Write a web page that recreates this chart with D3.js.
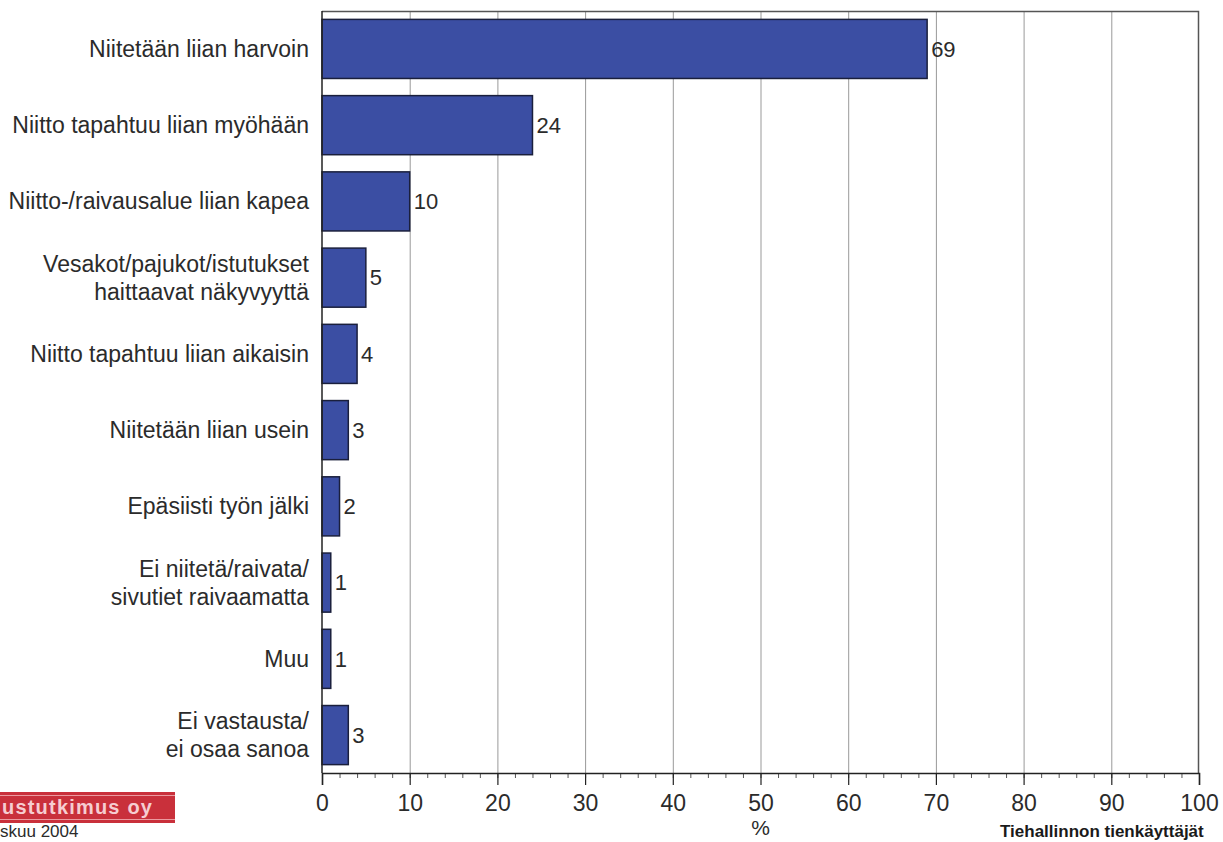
<!DOCTYPE html>
<html>
<head>
<meta charset="utf-8">
<script src="https://cdn.jsdelivr.net/npm/d3@7"></script>
<style>
  html, body { margin: 0; padding: 0; background: #fff; overflow: hidden; }
  svg { display: block; font-family: "Liberation Sans", Arial, sans-serif; }
</style>
</head>
<body>
<script>
const categories = [
  ["Niitetään liian harvoin"],
  ["Niitto tapahtuu liian myöhään"],
  ["Niitto-/raivausalue liian kapea"],
  ["Vesakot/pajukot/istutukset", "haittaavat näkyvyyttä"],
  ["Niitto tapahtuu liian aikaisin"],
  ["Niitetään liian usein"],
  ["Epäsiisti työn jälki"],
  ["Ei niitetä/raivata/", "sivutiet raivaamatta"],
  ["Muu"],
  ["Ei vastausta/", "ei osaa sanoa"]
];
const values = [69, 24, 10, 5, 4, 3, 2, 1, 1, 3];
const xTicks = [0, 10, 20, 30, 40, 50, 60, 70, 80, 90, 100];
const xMinorTicks = d3.range(0, 101, 2);
const axisTitle = "%";
const logoText = "ustutkimus oy";
const dateText = "skuu 2004";
const sourceText = "Tiehallinnon tienkäyttäjät";

const W = 1223, H = 842;
const mLeft = 322, mRight = 1199, mTop = 11, mBottom = 773;
const textColor = "#2b2b2b";

const svg = d3.select("body").append("svg").attr("width", W).attr("height", H);

const x = d3.scaleLinear().domain([0, 100]).range([mLeft, mRight]);
const y = d3.scaleBand().domain(d3.range(categories.length)).range([mTop, mBottom])
  .paddingInner(0.225).paddingOuter(0.11);

// gridlines
svg.append("g").selectAll("line").data(xTicks.slice(1, -1)).join("line")
  .attr("x1", d => x(d) + 0.5).attr("x2", d => x(d) + 0.5)
  .attr("y1", mTop).attr("y2", mBottom)
  .attr("stroke", "#999").attr("stroke-width", 1);

// plot border top and right
svg.append("path")
  .attr("d", `M${mLeft},${mTop + 0.5}H${mRight - 0.5}V${mBottom}`)
  .attr("fill", "none").attr("stroke", "#555").attr("stroke-width", 1.5);

// bars
svg.append("g").selectAll("rect").data(values).join("rect")
  .attr("x", x(0))
  .attr("y", (d, i) => y(i))
  .attr("width", d => x(d) - x(0))
  .attr("height", y.bandwidth())
  .attr("fill", "#3b4ea3")
  .attr("stroke", "#1a1f3c").attr("stroke-width", 1.5);

// value labels
svg.append("g").selectAll("text").data(values).join("text")
  .attr("x", d => x(d) + 4)
  .attr("y", (d, i) => y(i) + y.bandwidth() / 2)
  .attr("dy", "0.35em")
  .attr("font-size", 22).attr("fill", textColor)
  .text(d => d);

// category labels
const catG = svg.append("g");
categories.forEach((lines, i) => {
  const cy = y(i) + y.bandwidth() / 2;
  const lh = 28;
  const t = catG.append("text")
    .attr("text-anchor", "end")
    .attr("font-size", 23).attr("fill", textColor);
  lines.forEach((ln, j) => {
    t.append("tspan")
      .attr("x", 309)
      .attr("y", cy + (j - (lines.length - 1) / 2) * lh)
      .attr("dy", "0.35em")
      .text(ln);
  });
});

// left axis line
svg.append("line")
  .attr("x1", mLeft).attr("x2", mLeft).attr("y1", mTop).attr("y2", mBottom)
  .attr("stroke", "#222").attr("stroke-width", 1.5);

// bottom axis
const axisMinor = d3.axisBottom(x).tickValues(xMinorTicks).tickSize(5).tickFormat("");
const gMinor = svg.append("g").attr("transform", `translate(0,${mBottom})`).call(axisMinor);
gMinor.select(".domain").remove();
gMinor.selectAll("line").attr("stroke", "#555");

const axis = d3.axisBottom(x).tickValues(xTicks).tickSize(12).tickPadding(10);
const gAxis = svg.append("g").attr("transform", `translate(0,${mBottom})`).call(axis);
gAxis.select(".domain").attr("stroke", "#222").attr("stroke-width", 1.5);
gAxis.selectAll(".tick line").attr("stroke", "#222").attr("stroke-width", 1.2);
gAxis.selectAll(".tick text").attr("font-size", 23).attr("fill", textColor)
  .attr("font-family", "'Liberation Sans', Arial, sans-serif");

// axis title
svg.append("text").attr("x", x(50)).attr("y", 835)
  .attr("text-anchor", "middle").attr("font-size", 21).attr("fill", textColor)
  .text(axisTitle);

// logo box
const logo = svg.append("g");
logo.append("rect").attr("x", -2).attr("y", 792).attr("width", 177).attr("height", 31)
  .attr("fill", "#c9303b");
logo.append("line").attr("x1", 0).attr("x2", 175).attr("y1", 795.5).attr("y2", 795.5)
  .attr("stroke", "#ec9aa0").attr("stroke-width", 1);
logo.append("line").attr("x1", 0).attr("x2", 175).attr("y1", 819.5).attr("y2", 819.5)
  .attr("stroke", "#ec9aa0").attr("stroke-width", 1);
logo.append("text").attr("x", 2).attr("y", 814)
  .attr("font-size", 20).attr("font-weight", "bold").attr("letter-spacing", 1.2)
  .attr("fill", "#f6cdd1").text(logoText);

// date
svg.append("text").attr("x", 0).attr("y", 837)
  .attr("font-size", 17).attr("fill", textColor).text(dateText);

// source
svg.append("text").attr("x", 1000).attr("y", 837)
  .attr("font-size", 17).attr("font-weight", "bold").attr("fill", "#1a1a1a").text(sourceText);
</script>
</body>
</html>
